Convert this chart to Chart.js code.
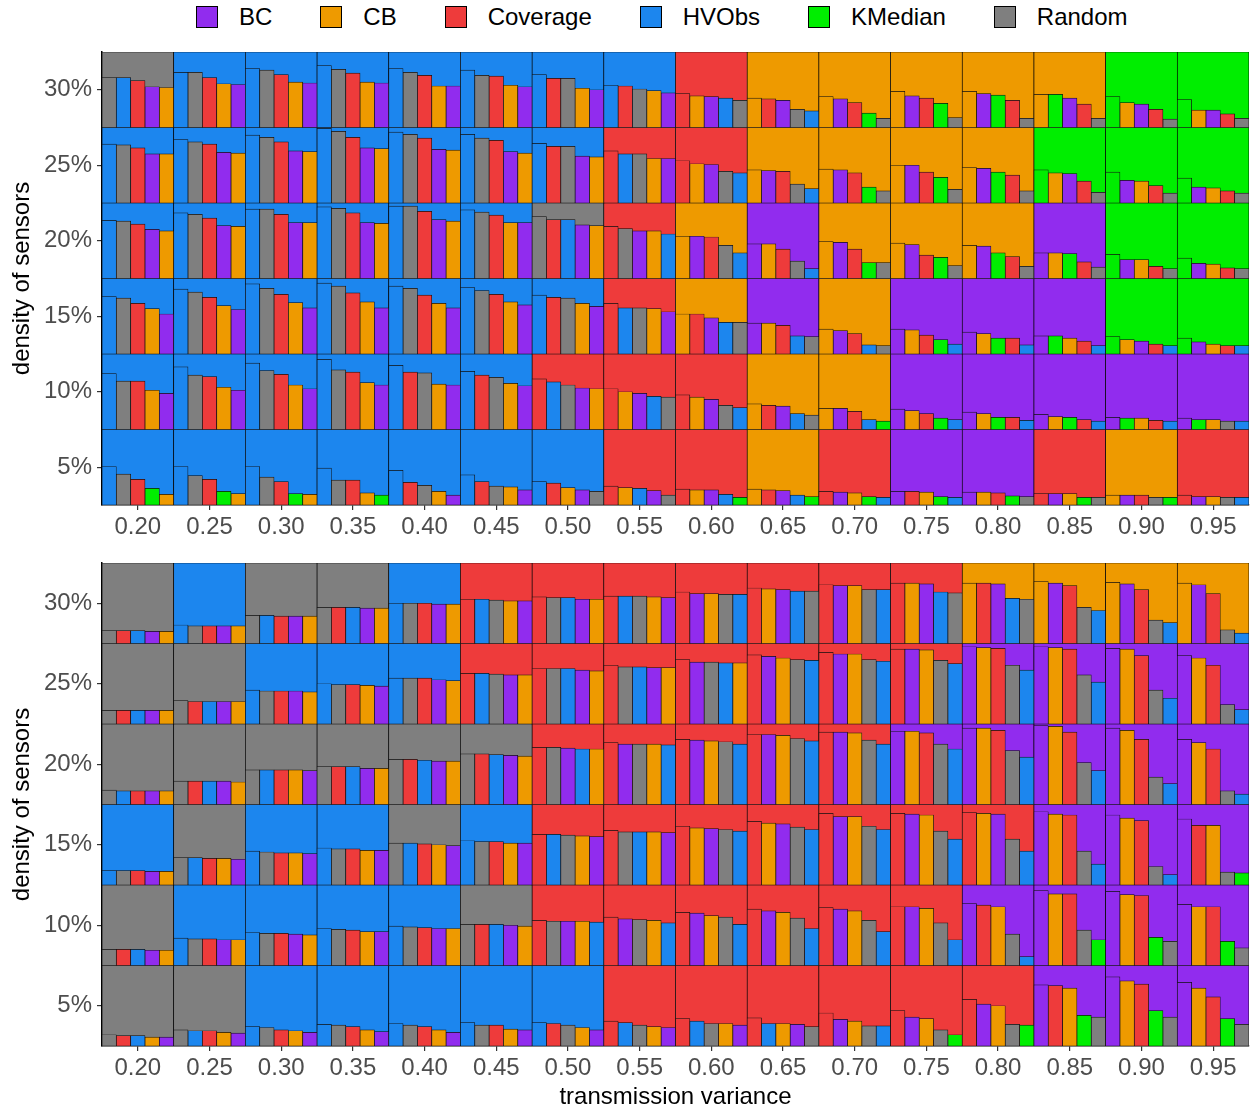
<!DOCTYPE html>
<html>
<head>
<meta charset="utf-8">
<title>Best method per density and transmission variance</title>
<script src="https://cdn.jsdelivr.net/npm/chart.js@4.4.1/dist/chart.umd.min.js"></script>
<style>
  html, body { margin: 0; padding: 0; background: #fff; }
  #wrap { position: relative; width: 1255px; height: 1112px; overflow: hidden; }
  .panel { position: absolute; left: 0; }
  #legend {
    position: absolute; top: 5px; left: 196px; height: 23px;
    display: flex; align-items: center; gap: 48px;
    font-family: "Liberation Sans", Arial, Helvetica, sans-serif; font-size: 24px; color: #000;
  }
  #legend .item { display: flex; align-items: center; }
  #legend .box { width: 22px; height: 22px; box-sizing: border-box; border: 1px solid #000; margin-right: 21px; }
</style>
</head>
<body>
<div id="wrap">
  <div id="legend"></div>
  <canvas class="panel" id="chartUpper" width="1255" height="548" style="top:0px"></canvas>
  <canvas class="panel" id="chartLower" width="1255" height="572" style="top:540px"></canvas>
</div>
<script>
// methods and their colours (legend order)
const methods = ['BC', 'CB', 'Coverage', 'HVObs', 'KMedian', 'Random'];
const methodCodes = ['B', 'C', 'V', 'H', 'K', 'R'];
const methodColors = ['#912CEE', '#EE9A00', '#EE3B3B', '#1C86EE', '#00EE00', '#7F7F7F'];

const variances = ['0.20', '0.25', '0.30', '0.35', '0.40', '0.45', '0.50', '0.55',
                   '0.60', '0.65', '0.70', '0.75', '0.80', '0.85', '0.90', '0.95'];
const densities = ['5%', '10%', '15%', '20%', '25%', '30%'];

// Each cell: five best methods, best first (B=BC C=CB V=Coverage H=HVObs K=KMedian R=Random)
// values are bar heights in % of the cell height

/* ---------- upper panel ---------- */
const upperRanks30 = ['RHVBC','HRVCB','HRVCB','HRVCB','HRVCB','HRVCB','HVRCB','HVRCB','VCBHR','CVBRH','CBVKR','CBVKR','CBKVR','CKBVR','KCBVR','KCBVR'];
const upperValues30 = [[66,66,62,54,53],[73,73,66,58,57],[78,76,70,60,59],[82,77,72,60,59],[78,73,69,55,55],[76,69,68,56,54],[70,65,65,52,50],[56,55,51,49,46],[45,42,41,39,36],[39,38,36,24,22],[41,38,33,19,12],[48,42,39,32,13],[48,45,43,36,12],[44,44,39,31,12],[41,33,31,24,11],[37,23,23,18,12]];

const upperRanks25 = ['HRVBC','HRVBC','HRVBC','HRVBC','HRVBC','HRVBC','HVRBC','VHRCB','VCBRH','CBVRH','CBVKR','CBVKR','CBKVR','KCBVR','KBCVR','KBCVR'];
const upperValues25 = [[78,77,73,65,65],[84,81,78,67,66],[90,87,81,69,68],[99,95,87,73,72],[94,91,86,71,70],[91,86,83,68,66],[79,75,75,62,61],[69,65,65,59,59],[56,52,51,42,40],[44,43,42,25,19],[45,44,40,21,16],[50,50,41,34,18],[47,46,41,37,16],[44,40,39,29,14],[41,30,29,23,13],[33,21,20,16,13]];

const upperRanks20 = ['HRVBC','HRVBC','HRVBC','HRVBC','HRVBC','HRVCB','RVHBC','VRBCH','CBVRH','BCVRH','CBVKR','CBVKR','CBKVR','BCKVR','KBCVR','KBCVR'];
const upperValues20 = [[77,76,72,65,63],[87,85,80,70,69],[92,92,85,74,74],[95,93,87,74,73],[96,96,89,78,76],[91,88,84,74,74],[82,78,78,71,70],[69,66,63,63,59],[56,56,55,44,34],[46,46,39,23,13],[49,48,39,21,21],[47,45,31,28,17],[44,43,34,29,16],[34,34,33,22,15],[32,25,25,16,13],[27,20,19,14,13]];

const upperRanks15 = ['HRVCB','HRVCB','HRVCB','HRVCB','HRVCB','HRVCB','HVRCB','VHRCB','CVBHR','BCVHR','CBVHR','BCVKH','BCKVH','BKCVH','KCBVH','KBCVH'];
const upperValues15 = [[76,74,67,60,53],[86,82,75,64,59],[93,87,79,68,61],[94,90,81,69,61],[90,87,78,67,61],[88,84,79,69,65],[78,75,74,67,63],[67,61,61,60,56],[53,53,48,42,42],[41,41,38,24,23],[33,31,27,12,11],[33,32,25,19,13],[29,27,21,21,12],[24,24,21,17,11],[23,19,17,13,11],[21,16,13,11,11]];

const upperRanks10 = ['HRVCB','HRVCB','HRVCB','HRVCB','HVRCB','HVRCB','VHRBC','VCBHR','VCBRH','CVBHR','CBVHK','BCVKH','BCKVH','BCKVH','BKCVH','BKCRH'];
const upperValues10 = [[74,64,64,52,48],[83,72,70,56,52],[88,78,73,59,54],[93,79,76,62,59],[85,76,75,60,59],[77,72,69,61,58],[67,63,59,55,54],[54,50,48,44,43],[46,43,40,32,29],[34,32,31,21,19],[28,28,24,13,11],[27,25,21,15,13],[23,21,16,16,12],[20,17,16,13,11],[16,15,15,12,11],[15,13,13,11,11]];

const upperRanks05 = ['HRVKC','HRVKC','HRVKC','HRVCK','HVRCB','HVRCB','HVCBR','VCHBR','VCBHK','CVBHK','VBCKH','BVCKH','BCVKR','VBCKR','CBVRK','VBCRH'];
const upperValues05 = [[51,41,34,22,14],[51,39,34,18,15],[51,37,31,15,14],[49,33,33,16,13],[46,30,26,18,13],[40,31,25,24,20],[31,29,23,20,18],[25,23,22,19,13],[21,20,20,14,10],[21,20,19,13,11],[18,17,16,11,10],[18,18,17,11,10],[17,17,16,12,11],[15,15,15,10,10],[13,13,13,10,10],[13,11,11,10,10]];

/* ---------- lower panel ---------- */
const lowerRanks30 = ['RVHBC','HRVBC','RHVBC','RVHBC','HRVBC','VHRCB','VRHBC','VHRCB','VBCRH','VCBHR','VBCRH','VCBHR','CVBHR','CBVRH','CBVRH','CBVRH'];
const lowerValues30 = [[16,16,16,15,15],[23,22,22,22,22],[35,35,34,34,34],[45,45,45,44,44],[50,50,50,49,49],[55,55,54,53,53],[58,57,57,55,55],[59,59,59,58,57],[64,62,62,61,61],[69,68,67,65,65],[73,72,72,67,67],[75,75,74,64,63],[75,75,74,56,55],[77,75,72,45,41],[76,74,67,29,26],[75,73,62,17,13]];

const lowerRanks25 = ['RVHBC','RVHBC','HRVBC','HRVCB','HRVBC','VHRBC','VRHBC','VRHBC','VBRHC','VBCRH','VBCRH','VBCRH','BCVRH','BCVRH','BCVRH','BCVRH'];
const lowerValues25 = [[17,17,17,17,17],[29,28,28,28,28],[42,41,41,41,40],[50,49,49,48,47],[57,57,57,55,54],[63,63,62,61,61],[69,69,69,67,66],[73,71,71,70,70],[80,77,77,76,76],[86,84,82,80,79],[89,87,87,80,78],[93,93,92,79,75],[96,95,94,73,67],[96,95,93,61,52],[94,93,85,42,32],[85,82,73,24,18]];

const lowerRanks20 = ['RHVBC','RVHBC','RHVCB','RVHBC','RVHBC','RVHBC','VRBHC','VBRCH','VBCRH','VBCRH','VBCRH','BCVRH','BCVRH','BCVRH','BCVRH','BCVRH'];
const lowerValues20 = [[18,17,17,17,17],[29,29,29,29,28],[43,43,43,43,42],[47,47,47,45,45],[56,56,55,54,54],[63,63,62,61,60],[71,71,70,69,69],[77,75,75,75,74],[81,80,79,78,75],[87,87,86,82,79],[90,90,89,80,75],[91,91,89,75,69],[95,95,92,67,59],[98,97,90,52,42],[95,92,81,34,26],[81,77,69,17,13]];

const lowerRanks15 = ['HRVBC','RHVCB','HRVCB','HRVCB','RHVCB','HRVCB','VHRCB','VRHCB','VCBRH','VCBRH','VBCRH','VBCRH','VCBRH','BCVRH','BCVRH','BVCRK'];
const lowerValues15 = [[18,18,18,17,17],[34,34,33,33,32],[42,41,40,40,39],[46,45,45,43,43],[52,52,51,50,49],[55,54,54,52,52],[63,63,62,61,60],[68,66,66,66,65],[73,71,70,69,67],[79,77,76,72,69],[89,85,85,73,69],[89,88,87,67,57],[90,89,88,57,42],[91,88,87,42,26],[87,83,80,23,13],[82,74,74,16,15]];

const lowerRanks10 = ['RVHBC','HRVBC','HRVBC','HRVCB','HRVBC','RVHBC','VRBCH','VBRCH','VBCRH','VBCRH','VBCRH','VBCRH','BVCRH','BCVRK','BCVKR','BCVKR'];
const lowerValues10 = [[20,20,20,19,19],[34,33,33,32,32],[41,40,40,39,38],[46,45,44,42,42],[49,48,47,46,46],[51,51,51,50,49],[56,55,55,55,54],[60,58,57,56,53],[66,65,62,60,51],[70,68,66,59,46],[72,70,68,56,42],[73,73,71,53,32],[77,75,73,39,11],[93,89,89,44,32],[92,88,87,35,30],[76,73,73,30,22]];

const lowerRanks05 = ['RVHCB','RHVCB','HRVCB','HRVCB','HRVCB','HRVCB','HVRCB','VHRCB','VHRCB','VHCBR','VBCRH','VBCRK','VBCRK','BVCKR','BCVKR','BCVKR'];
const lowerValues05 = [[14,13,13,11,11],[20,19,19,17,16],[24,23,20,19,17],[27,26,24,20,18],[28,26,24,20,17],[29,26,26,21,20],[29,28,26,23,20],[31,29,26,24,23],[34,31,28,28,26],[35,28,28,27,24],[41,33,31,25,25],[44,36,34,20,14],[58,52,50,27,26],[76,75,72,38,36],[86,81,77,44,36],[79,72,61,34,27]];

// rows from bottom (5%) to top (30%)
const upperRanks = [upperRanks05, upperRanks10, upperRanks15, upperRanks20, upperRanks25, upperRanks30];
const upperValues = [upperValues05, upperValues10, upperValues15, upperValues20, upperValues25, upperValues30];
const lowerRanks = [lowerRanks05, lowerRanks10, lowerRanks15, lowerRanks20, lowerRanks25, lowerRanks30];
const lowerValues = [lowerValues05, lowerValues10, lowerValues15, lowerValues20, lowerValues25, lowerValues30];

const FONT = '"Liberation Sans", Arial, Helvetica, sans-serif';
const BARS_PER_CELL = 5;

function colorOf(code) {
  return methodColors[methodCodes.indexOf(code)];
}

// legend (top of the figure)
const legendEl = document.getElementById('legend');
methods.forEach((m, i) => {
  const item = document.createElement('div');
  item.className = 'item';
  const box = document.createElement('span');
  box.className = 'box';
  box.style.background = methodColors[i];
  const label = document.createElement('span');
  label.textContent = m;
  item.appendChild(box);
  item.appendChild(label);
  legendEl.appendChild(item);
});

// one slot per small bar: 16 cells x 5 bars
const slotLabels = [];
variances.forEach(v => { for (let k = 0; k < BARS_PER_CELL; k++) slotLabels.push(v + '-' + k); });

function panelDatasets(ranks, values) {
  const sets = [];
  // small bars, one dataset per density row
  ranks.forEach((row, r) => {
    const data = [];
    const colors = [];
    row.forEach((order, c) => {
      for (let k = 0; k < BARS_PER_CELL; k++) {
        data.push([r, r + values[r][c][k] / 100]);
        colors.push(colorOf(order[k]));
      }
    });
    sets.push({
      xAxisID: 'xBars', yAxisID: 'y', data, backgroundColor: colors,
      borderColor: '#111', borderWidth: 0.7, borderSkipped: false,
      grouped: false, barPercentage: 1, categoryPercentage: 1, order: 0
    });
  });
  // cell background = colour of the winning method
  ranks.forEach((row, r) => {
    sets.push({
      xAxisID: 'xCells', yAxisID: 'y',
      data: row.map(() => [r, r + 1]),
      backgroundColor: row.map(order => colorOf(order[0])),
      borderColor: '#000', borderWidth: 0.7, borderSkipped: false,
      grouped: false, barPercentage: 1, categoryPercentage: 1, order: 1
    });
  });
  return sets;
}

function makePanel(canvasId, ranks, values, topPad, axisHeight, showXTitle) {
  return new Chart(document.getElementById(canvasId), {
    type: 'bar',
    data: { datasets: panelDatasets(ranks, values) },
    options: {
      responsive: false,
      animation: false,
      devicePixelRatio: 1,
      layout: { padding: { top: topPad, right: 6, bottom: 0, left: 0 } },
      plugins: {
        legend: { display: false },
        tooltip: { enabled: false }
      },
      scales: {
        xCells: {
          type: 'category',
          labels: variances,
          position: 'bottom',
          offset: true,
          afterFit: s => { s.height = axisHeight; },
          grid: { offset: false, drawOnChartArea: false, tickLength: 5, color: '#333333', lineWidth: 1.2 },
          border: { display: true, color: '#000', width: 1.5 },
          ticks: { autoSkip: false, maxRotation: 0, padding: 3, color: '#4D4D4D', font: { family: FONT, size: 24 } },
          title: {
            display: showXTitle, text: 'transmission variance', color: '#000',
            font: { family: FONT, size: 24 }, padding: { top: 0, bottom: 0 }
          }
        },
        xBars: {
          type: 'category',
          labels: slotLabels,
          position: 'bottom',
          offset: true,
          display: false
        },
        y: {
          type: 'linear',
          min: 0,
          max: densities.length,
          afterFit: s => { s.width = 102; },
          afterBuildTicks: s => { s.ticks = densities.map((d, i) => ({ value: i + 0.5 })); },
          grid: { drawOnChartArea: false, tickLength: 5, color: '#333333', lineWidth: 1.2 },
          border: { display: true, color: '#000', width: 1.5 },
          ticks: {
            padding: 5, color: '#4D4D4D', font: { family: FONT, size: 24 },
            callback: v => densities[Math.floor(v)]
          },
          title: {
            display: true, text: 'density of sensors', color: '#000',
            font: { family: FONT, size: 24 }, padding: { top: 8, bottom: 0 }
          }
        }
      }
    }
  });
}

makePanel('chartUpper', upperRanks, upperValues, 52, 43, false);
makePanel('chartLower', lowerRanks, lowerValues, 23, 66, true);
</script>
</body>
</html>
